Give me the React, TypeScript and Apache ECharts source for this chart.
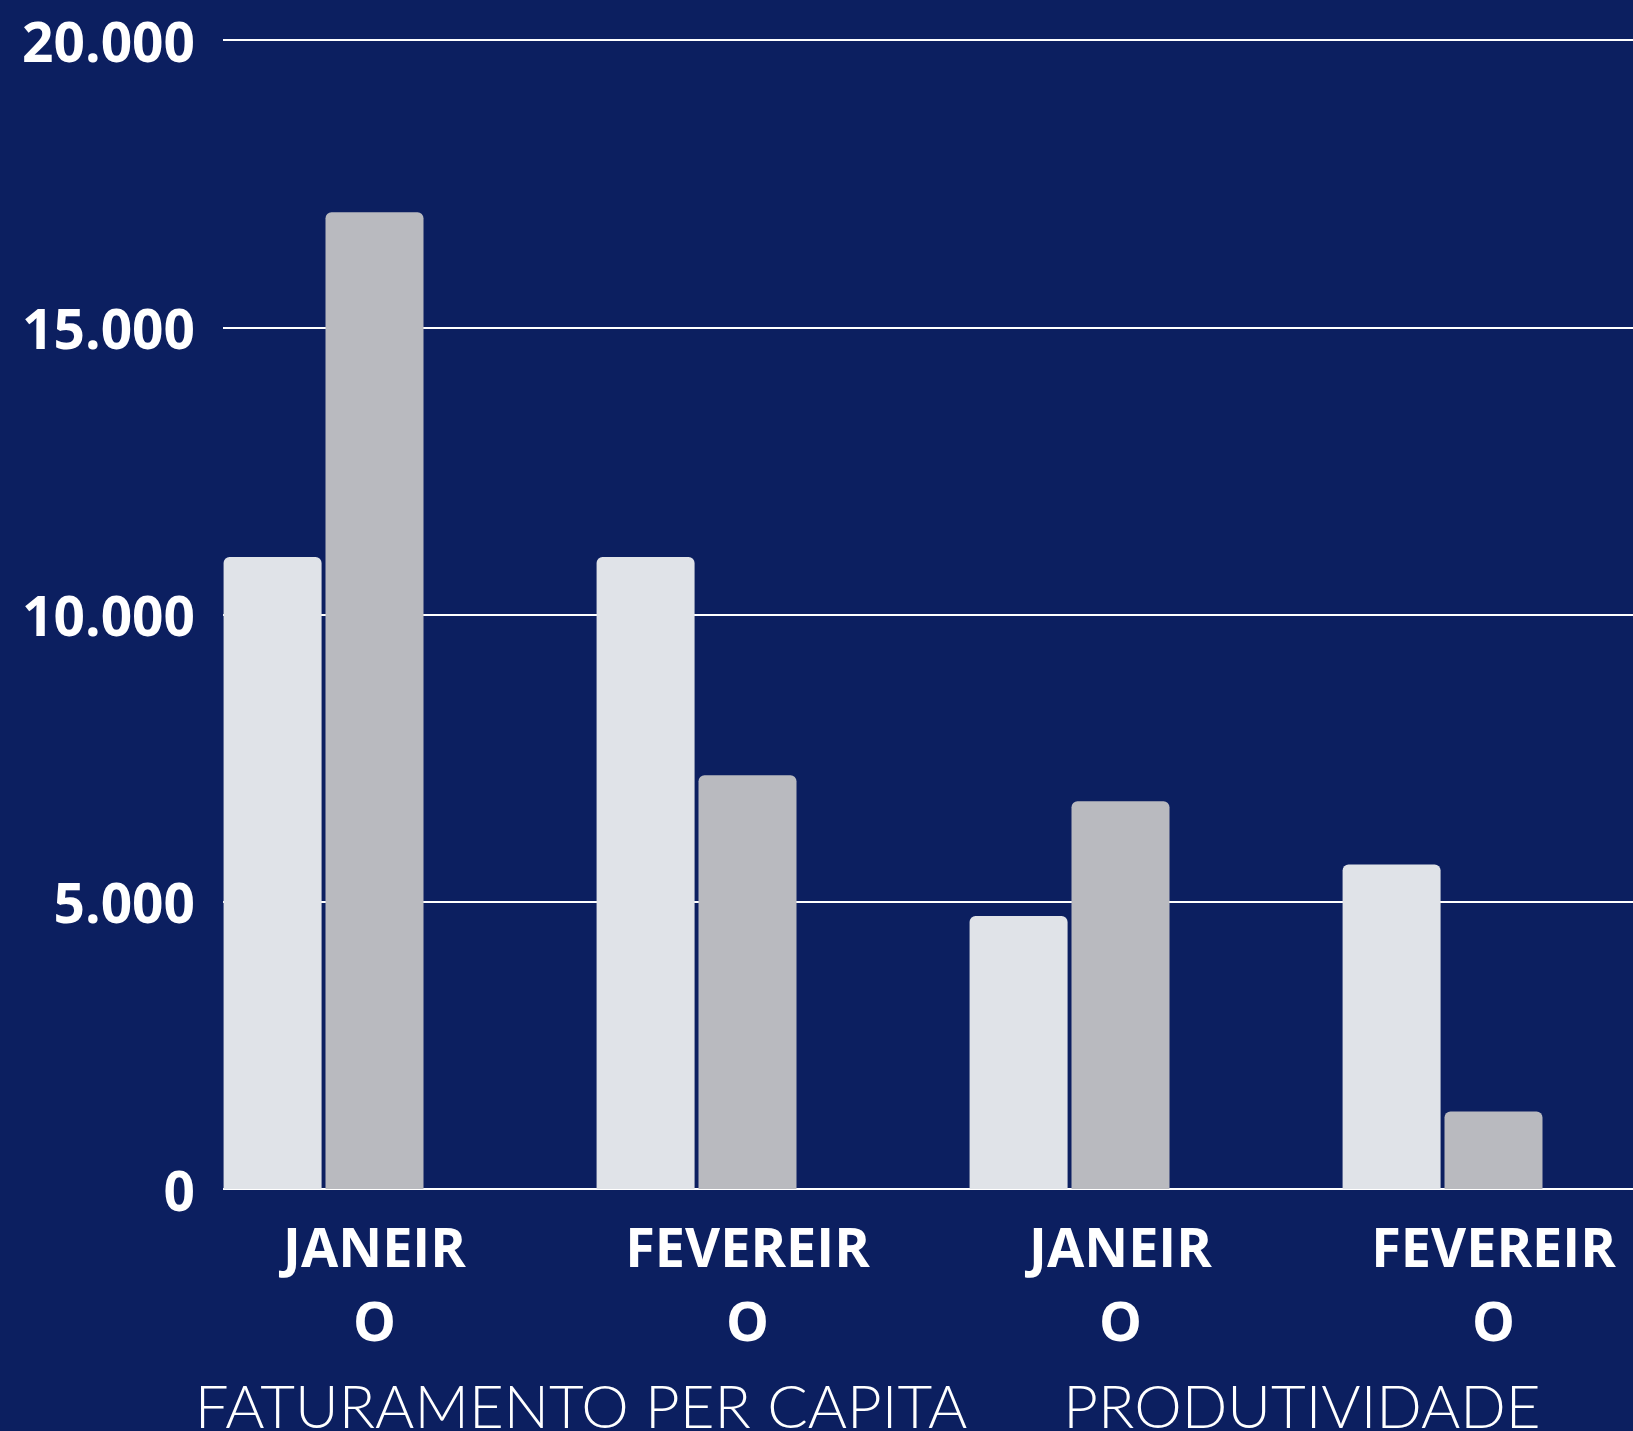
import React, { useEffect, useRef } from "react";
import * as echarts from "echarts";

const categories = ["JANEIRO", "FEVEREIRO", "JANEIRO", "FEVEREIRO"];
const serieClara = [11000, 11000, 4750, 5650];
const serieEscura = [17000, 7200, 6750, 1350];
const serieVazia: (number | null)[] = [null, null, null, null];
const groupTitles = ["FATURAMENTO PER CAPITA", "PRODUTIVIDADE"];
const yMin = 0;
const yMax = 20000;
const yInterval = 5000;

const BG = "#0c1f60";
const LIGHT = "#e0e3e8";
const DARK = "#b9babf";

const fmtThousands = (v: number) =>
  String(Math.round(v)).replace(/\B(?=(\d{3})+(?!\d))/g, ".");

export default function App() {
  const ref = useRef<HTMLDivElement>(null);
  useEffect(() => {
    document.body.style.margin = "0";
    document.body.style.background = BG;
    if (!ref.current) return;
    const chart = echarts.init(ref.current, undefined, { renderer: "svg" });
    const gridTop = 40;
    const gridHeight = 1149;
    chart.setOption({
      animation: false,
      backgroundColor: BG,
      grid: [
        {
          left: 188,
          top: gridTop,
          width: 1492,
          height: gridHeight,
          outerBoundsMode: "none",
          containLabel: false,
        },
        {
          left: 223,
          top: gridTop,
          right: 0,
          height: gridHeight,
          outerBoundsMode: "none",
          containLabel: false,
        },
      ],
      xAxis: [
        {
          type: "category",
          gridIndex: 0,
          data: categories,
          axisLine: { show: false },
          axisTick: { show: false },
          axisLabel: {
            color: "#ffffff",
            fontFamily: "Open Sans",
            fontWeight: 700,
            fontSize: 54,
            lineHeight: 74,
            margin: 20,
            formatter: (v: string) => v.slice(0, -1) + "\n" + v.slice(-1),
          },
        },
        { type: "value", gridIndex: 1, show: false, min: 0, max: 1 },
      ],
      yAxis: [
        { type: "value", gridIndex: 0, min: yMin, max: yMax, interval: yInterval, show: false },
        {
          type: "value",
          gridIndex: 1,
          min: yMin,
          max: yMax,
          interval: yInterval,
          axisLine: { show: false },
          axisTick: { show: false },
          splitLine: { show: true, lineStyle: { color: "#ffffff", width: 2 } },
          axisLabel: {
            color: "#ffffff",
            fontFamily: "Open Sans",
            fontWeight: 700,
            fontSize: 55,
            margin: 28,
            formatter: (v: number) => fmtThousands(v),
          },
        },
      ],
      series: [
        {
          type: "bar",
          xAxisIndex: 0,
          yAxisIndex: 0,
          data: serieClara,
          barWidth: 98,
          barGap: "4%",
          itemStyle: { color: LIGHT, borderRadius: [6, 6, 0, 0] },
        },
        {
          type: "bar",
          xAxisIndex: 0,
          yAxisIndex: 0,
          data: serieEscura,
          barWidth: 98,
          barGap: "4%",
          itemStyle: { color: DARK, borderRadius: [6, 6, 0, 0] },
        },
        {
          type: "bar",
          xAxisIndex: 0,
          yAxisIndex: 0,
          data: serieVazia,
          barWidth: 98,
          barGap: "4%",
          itemStyle: { color: LIGHT },
        },
      ],
      graphic: [
        {
          type: "text",
          x: 581,
          y: 1405,
          style: {
            text: groupTitles[0],
            fill: "#ffffff",
            font: "300 60px Lato",
            textAlign: "center",
            textVerticalAlign: "middle",
          },
        },
        {
          type: "text",
          x: 1302,
          y: 1405,
          style: {
            text: groupTitles[1],
            fill: "#ffffff",
            font: "300 60px Lato",
            textAlign: "center",
            textVerticalAlign: "middle",
          },
        },
      ],
    });
    return () => chart.dispose();
  }, []);
  return <div ref={ref} style={{ width: 1633, height: 1431 }} />;
}
